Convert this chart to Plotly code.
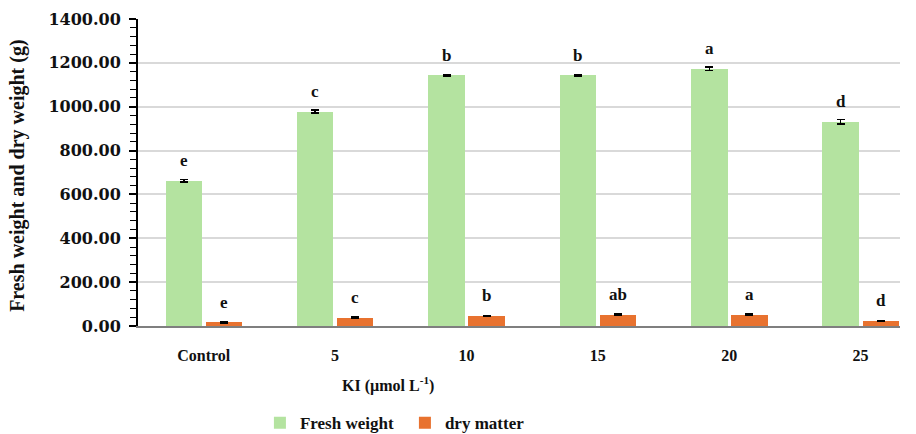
import plotly.graph_objects as go

# KI treatment levels and measured weights (g)
categories = ["Control", "5", "10", "15", "20", "25"]
fresh_weight = [662, 978, 1143, 1143, 1174, 931]
fresh_err = [5, 6, 4, 4, 8, 10]
fresh_letters = ["e", "c", "b", "b", "a", "d"]
dry_matter = [16, 38, 47, 52, 52, 24]
dry_err = [2, 2, 2, 2, 2, 2]
dry_letters = ["e", "c", "b", "ab", "a", "d"]

SERIF = "Liberation Serif, Times New Roman, serif"
GREEN = "#b4e3a0"
ORANGE = "#e8722f"

x_idx = list(range(len(categories)))
fresh_off, dry_off, bar_w = -0.29, 0.015, 0.277

fig = go.Figure()
fig.add_trace(go.Bar(
    x=x_idx, y=fresh_weight, name="Fresh weight",
    marker=dict(color=GREEN, line=dict(width=0)),
    offset=fresh_off, width=bar_w,
    error_y=dict(type="data", array=fresh_err, color="black", thickness=1.5, width=4),
))
fig.add_trace(go.Bar(
    x=x_idx, y=dry_matter, name="dry matter",
    marker=dict(color=ORANGE, line=dict(width=0)),
    offset=dry_off, width=bar_w,
    error_y=dict(type="data", array=dry_err, color="black", thickness=1.5, width=4),
))

# significance letters above each bar
for i in x_idx:
    fig.add_annotation(x=i + fresh_off + bar_w / 2, y=fresh_weight[i], text=f"<b>{fresh_letters[i]}</b>",
                       showarrow=False, yshift=20, font=dict(family=SERIF, size=17, color="#111"))
    fig.add_annotation(x=i + dry_off + bar_w / 2, y=dry_matter[i], text=f"<b>{dry_letters[i]}</b>",
                       showarrow=False, yshift=20, font=dict(family=SERIF, size=17, color="#111"))

fig.add_annotation(xref="paper", yref="paper", x=-0.1575, y=0.489, textangle=-90,
                   text="<b>Fresh weight and dry weight (g)</b>", showarrow=False,
                   xanchor="center", yanchor="middle",
                   font=dict(family=SERIF, size=20, color="#111"))
fig.add_annotation(xref="paper", yref="paper", x=0.328, y=-0.189,
                   text="<b>KI (µmol L<sup>-1</sup>)</b>", showarrow=False,
                   xanchor="center", yanchor="middle",
                   font=dict(family=SERIF, size=16, color="#111"))

fig.update_layout(
    width=916, height=434,
    font=dict(family=SERIF, color="#111"),
    margin=dict(l=138, r=16, t=19, b=108, autoexpand=False),
    plot_bgcolor="white", paper_bgcolor="white",
    showlegend=True,
    legend=dict(orientation="h", x=0.16, xref="paper", y=0.025, yref="container",
                xanchor="left", yanchor="middle",
                font=dict(family=SERIF, size=17, color="#111", weight="bold"),
                entrywidth=100, itemwidth=30),
    bargap=0, barmode="group",
)
fig.update_xaxes(
    range=[-0.5, 5.3], tickvals=x_idx,
    ticktext=[f"<b>{c}</b>" for c in categories],
    tickfont=dict(family=SERIF, size=16, color="#111"),
    showline=True, linecolor="#7f7f7f", linewidth=1.5,
    ticks="", showgrid=False, zeroline=False, ticklabelstandoff=14,
)
fig.update_yaxes(
    range=[0, 1400], dtick=200, tickformat=".2f",
    tickfont=dict(family="DejaVu Serif", size=16, color="#111", weight="bold"),
    showline=True, linecolor="black", linewidth=2,
    ticks="outside", ticklen=7, tickwidth=1.5, tickcolor="black", ticklabelstandoff=5,
    minor=dict(dtick=40, ticks="outside", ticklen=6, tickwidth=1.2, tickcolor="black", showgrid=False),
    showgrid=True, gridcolor="#d9d9d9", gridwidth=1.5, zeroline=False,
)

fig.write_html("out.html")
